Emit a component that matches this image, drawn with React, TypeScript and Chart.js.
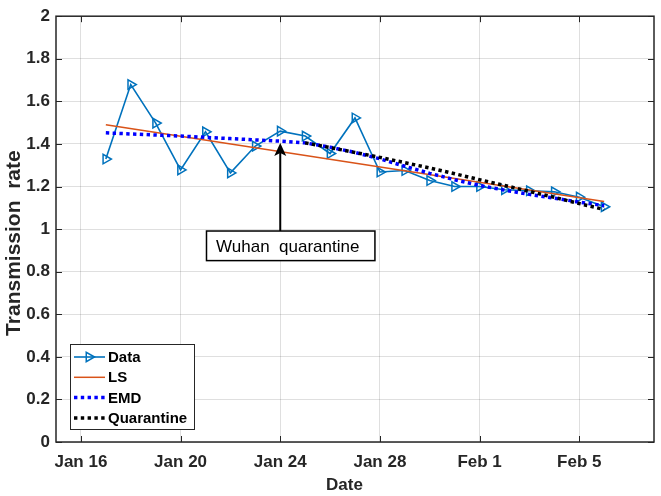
import React, { useEffect, useRef } from "react";
import { Chart, registerables } from "chart.js";

Chart.register(...registerables);

// Day numbers: Jan 17 = 17 ... Jan 31 = 31, Feb 1 = 32 ... Feb 6 = 37
const dataDays = [17, 18, 19, 20, 21, 22, 23, 24, 25, 26, 27, 28, 29, 30, 31, 32, 33, 34, 35, 36, 37];
const dataValues = [1.329, 1.679, 1.498, 1.278, 1.457, 1.264, 1.39, 1.46, 1.437, 1.355, 1.522, 1.268, 1.275, 1.228, 1.2, 1.2, 1.185, 1.18, 1.175, 1.15, 1.105];

const lsDays = [17, 37];
const lsValues = [1.49, 1.13];

const emdDays = [17, 18, 19, 20, 21, 22, 23, 24, 25, 26, 27, 28, 29, 30, 31, 32, 33, 34, 35, 36, 37];
const emdValues = [1.452, 1.447, 1.442, 1.437, 1.431, 1.425, 1.419, 1.413, 1.405, 1.385, 1.36, 1.33, 1.295, 1.262, 1.232, 1.205, 1.183, 1.163, 1.145, 1.127, 1.11];

const quarantineDays = [25, 26, 27, 28, 29, 30, 31, 32, 33, 34, 35, 36, 37];
const quarantineValues = [1.405, 1.383, 1.36, 1.337, 1.312, 1.287, 1.26, 1.232, 1.205, 1.177, 1.149, 1.12, 1.092];

const seriesNames = ["Data", "LS", "EMD", "Quarantine"];

const tickDays = [16, 20, 24, 28, 32, 36];
const tickLabels = ["Jan 16", "Jan 20", "Jan 24", "Jan 28", "Feb 1", "Feb 5"];

const xMin = 15;
const xMax = 39;
const yMin = 0;
const yMax = 2;
const yStep = 0.2;

const xTitle = "Date";
const yTitle = "Transmission  rate";

const annotationText = "Wuhan  quarantine";
const arrowDay = 24;
const arrowTipValue = 1.405;
const arrowTailValue = 0.99;
const boxDays = [21.04, 27.8];
const boxValues = [0.852, 0.991];

const AXIS = "#262626";
const BLUE = "#0072BD";
const ORANGE = "#D95319";
const EMD_BLUE = "#0000FF";
const BLACK = "#000000";
const GRID = "rgba(38,38,38,0.15)";
const FONT = "'Liberation Sans', Arial, Helvetica, sans-serif";

const pts = (days: number[], vals: number[]) => days.map((d, i) => ({ x: d, y: vals[i] }));

function drawTriangleRight(ctx: CanvasRenderingContext2D, x: number, y: number, r: number) {
  ctx.beginPath();
  ctx.moveTo(x + r, y);
  ctx.lineTo(x - r * 0.5, y - r * 0.866);
  ctx.lineTo(x - r * 0.5, y + r * 0.866);
  ctx.closePath();
  ctx.stroke();
}

const decorPlugin = {
  id: "decor",
  afterDatasetsDraw(chart: any) {
    const ctx: CanvasRenderingContext2D = chart.ctx;
    const { left, right, top, bottom } = chart.chartArea;
    const xs = chart.scales.x;
    const ys = chart.scales.y;
    ctx.save();
    // inner ticks
    ctx.strokeStyle = AXIS;
    ctx.lineWidth = 1;
    const tl = 6;
    tickDays.forEach((d) => {
      const px = Math.round(xs.getPixelForValue(d)) + 0.5;
      ctx.beginPath();
      ctx.moveTo(px, bottom);
      ctx.lineTo(px, bottom - tl);
      ctx.moveTo(px, top);
      ctx.lineTo(px, top + tl);
      ctx.stroke();
    });
    for (let v = yMin; v <= yMax + 1e-9; v += yStep) {
      const py = Math.round(ys.getPixelForValue(v)) + 0.5;
      ctx.beginPath();
      ctx.moveTo(left, py);
      ctx.lineTo(left + tl, py);
      ctx.moveTo(right, py);
      ctx.lineTo(right - tl, py);
      ctx.stroke();
    }
    // frame
    ctx.lineWidth = 1.5;
    ctx.strokeRect(left, top, right - left, bottom - top);

    // annotation arrow
    const ax = xs.getPixelForValue(arrowDay);
    const tipY = ys.getPixelForValue(arrowTipValue);
    const tailY = ys.getPixelForValue(arrowTailValue);
    ctx.strokeStyle = BLACK;
    ctx.fillStyle = BLACK;
    ctx.lineWidth = 2;
    ctx.beginPath();
    ctx.moveTo(ax, tailY);
    ctx.lineTo(ax, tipY + 10);
    ctx.stroke();
    ctx.beginPath();
    ctx.moveTo(ax, tipY);
    ctx.lineTo(ax - 6, tipY + 13);
    ctx.lineTo(ax, tipY + 10);
    ctx.lineTo(ax + 6, tipY + 13);
    ctx.closePath();
    ctx.fill();

    // annotation box
    const bx0 = xs.getPixelForValue(boxDays[0]);
    const bx1 = xs.getPixelForValue(boxDays[1]);
    const by0 = ys.getPixelForValue(boxValues[1]);
    const by1 = ys.getPixelForValue(boxValues[0]);
    ctx.fillStyle = "#ffffff";
    ctx.fillRect(bx0, by0, bx1 - bx0, by1 - by0);
    ctx.lineWidth = 1.5;
    ctx.strokeStyle = BLACK;
    ctx.strokeRect(bx0, by0, bx1 - bx0, by1 - by0);
    ctx.fillStyle = BLACK;
    ctx.font = `17px ${FONT}`;
    ctx.textAlign = "center";
    ctx.textBaseline = "middle";
    ctx.fillText(annotationText, (bx0 + bx1) / 2 - 3, (by0 + by1) / 2 + 1);
    ctx.restore();
  },
  afterDraw(chart: any) {
    const ctx: CanvasRenderingContext2D = chart.ctx;
    const { left, bottom, top } = chart.chartArea;
    ctx.save();
    // legend
    const lx = left + 14;
    const ly = bottom - 98;
    const lw = 124;
    const lh = 85;
    ctx.fillStyle = "#ffffff";
    ctx.fillRect(lx, ly, lw, lh);
    ctx.strokeStyle = AXIS;
    ctx.lineWidth = 1;
    ctx.strokeRect(lx + 0.5, ly + 0.5, lw, lh);
    const ds = chart.data.datasets;
    seriesNames.forEach((name, i) => {
      const d = ds[i];
      const cy = ly + 13 + i * 20.3;
      ctx.save();
      ctx.strokeStyle = d.borderColor;
      ctx.lineWidth = d.borderWidth;
      ctx.setLineDash(d.borderDash || []);
      ctx.beginPath();
      ctx.moveTo(lx + 4, cy);
      ctx.lineTo(lx + 35, cy);
      ctx.stroke();
      ctx.setLineDash([]);
      if (d.pointRadius > 0) {
        ctx.lineWidth = d.pointBorderWidth;
        drawTriangleRight(ctx, lx + 19, cy, d.pointRadius);
      }
      ctx.restore();
      ctx.fillStyle = BLACK;
      ctx.font = `bold 15px ${FONT}`;
      ctx.textAlign = "left";
      ctx.textBaseline = "middle";
      ctx.fillText(name, lx + 38, cy + 1);
    });

    // axis titles
    ctx.fillStyle = AXIS;
    ctx.font = `bold 17px ${FONT}`;
    ctx.textAlign = "center";
    ctx.textBaseline = "alphabetic";
    ctx.fillText(xTitle, 344.5, 490);
    ctx.save();
    ctx.translate(20, (top + bottom) / 2 + 14);
    ctx.rotate(-Math.PI / 2);
    ctx.font = `bold 21px ${FONT}`;
    ctx.fillText(yTitle, 0, 0);
    ctx.restore();
    ctx.restore();
  },
};

export default function App() {
  const ref = useRef<HTMLCanvasElement>(null);
  useEffect(() => {
    const canvas = ref.current!;
    const chart = new Chart(canvas, {
      type: "line",
      data: {
        datasets: [
          {
            label: seriesNames[0],
            data: pts(dataDays, dataValues),
            borderColor: BLUE,
            borderWidth: 1.6,
            pointStyle: "triangle",
            pointRotation: 90,
            pointRadius: 5.5,
            pointBorderWidth: 1.5,
            pointBorderColor: BLUE,
            pointBackgroundColor: "rgba(0,0,0,0)",
            tension: 0,
            order: 3,
          },
          {
            label: seriesNames[1],
            data: pts(lsDays, lsValues),
            borderColor: ORANGE,
            borderWidth: 1.5,
            pointRadius: 0,
            tension: 0,
            order: 2,
          },
          {
            label: seriesNames[2],
            data: pts(emdDays, emdValues),
            borderColor: EMD_BLUE,
            borderWidth: 3.5,
            borderDash: [3.4, 3.4],
            pointRadius: 0,
            tension: 0,
            order: 1,
          },
          {
            label: seriesNames[3],
            data: pts(quarantineDays, quarantineValues),
            borderColor: BLACK,
            borderWidth: 3.5,
            borderDash: [3.4, 3.4],
            pointRadius: 0,
            tension: 0,
            order: 0,
          },
        ],
      } as any,
      options: {
        responsive: false,
        animation: false,
        devicePixelRatio: 1,
        layout: { padding: { left: 0, right: 6, top: 10, bottom: 0 } },
        plugins: { legend: { display: false }, tooltip: { enabled: false } },
        scales: {
          x: {
            type: "linear",
            min: xMin,
            max: xMax,
            afterBuildTicks: (s: any) => {
              s.ticks = tickDays.map((v) => ({ value: v }));
            },
            afterFit: (s: any) => {
              s.height = 54;
            },
            grid: { color: GRID, lineWidth: 1, drawTicks: false },
            border: { display: false },
            ticks: {
              autoSkip: false,
              maxRotation: 0,
              padding: 10,
              color: AXIS,
              font: { family: FONT, size: 17, weight: "bold" },
              callback: (_v: any, i: number) => tickLabels[i],
            },
          },
          y: {
            min: yMin,
            max: yMax,
            afterFit: (s: any) => {
              s.width = 56;
            },
            grid: { color: GRID, lineWidth: 1, drawTicks: false },
            border: { display: false },
            ticks: {
              stepSize: yStep,
              padding: 6,
              color: AXIS,
              font: { family: FONT, size: 17, weight: "bold" },
              callback: (v: any) => String(Math.round(Number(v) * 10) / 10),
            },
          },
        },
      } as any,
      plugins: [decorPlugin],
    });
    return () => chart.destroy();
  }, []);
  return (
    <div style={{ position: "absolute", left: 0, top: 0, width: 661, height: 496 }}>
      <canvas ref={ref} width={661} height={496} style={{ display: "block" }} />
    </div>
  );
}
